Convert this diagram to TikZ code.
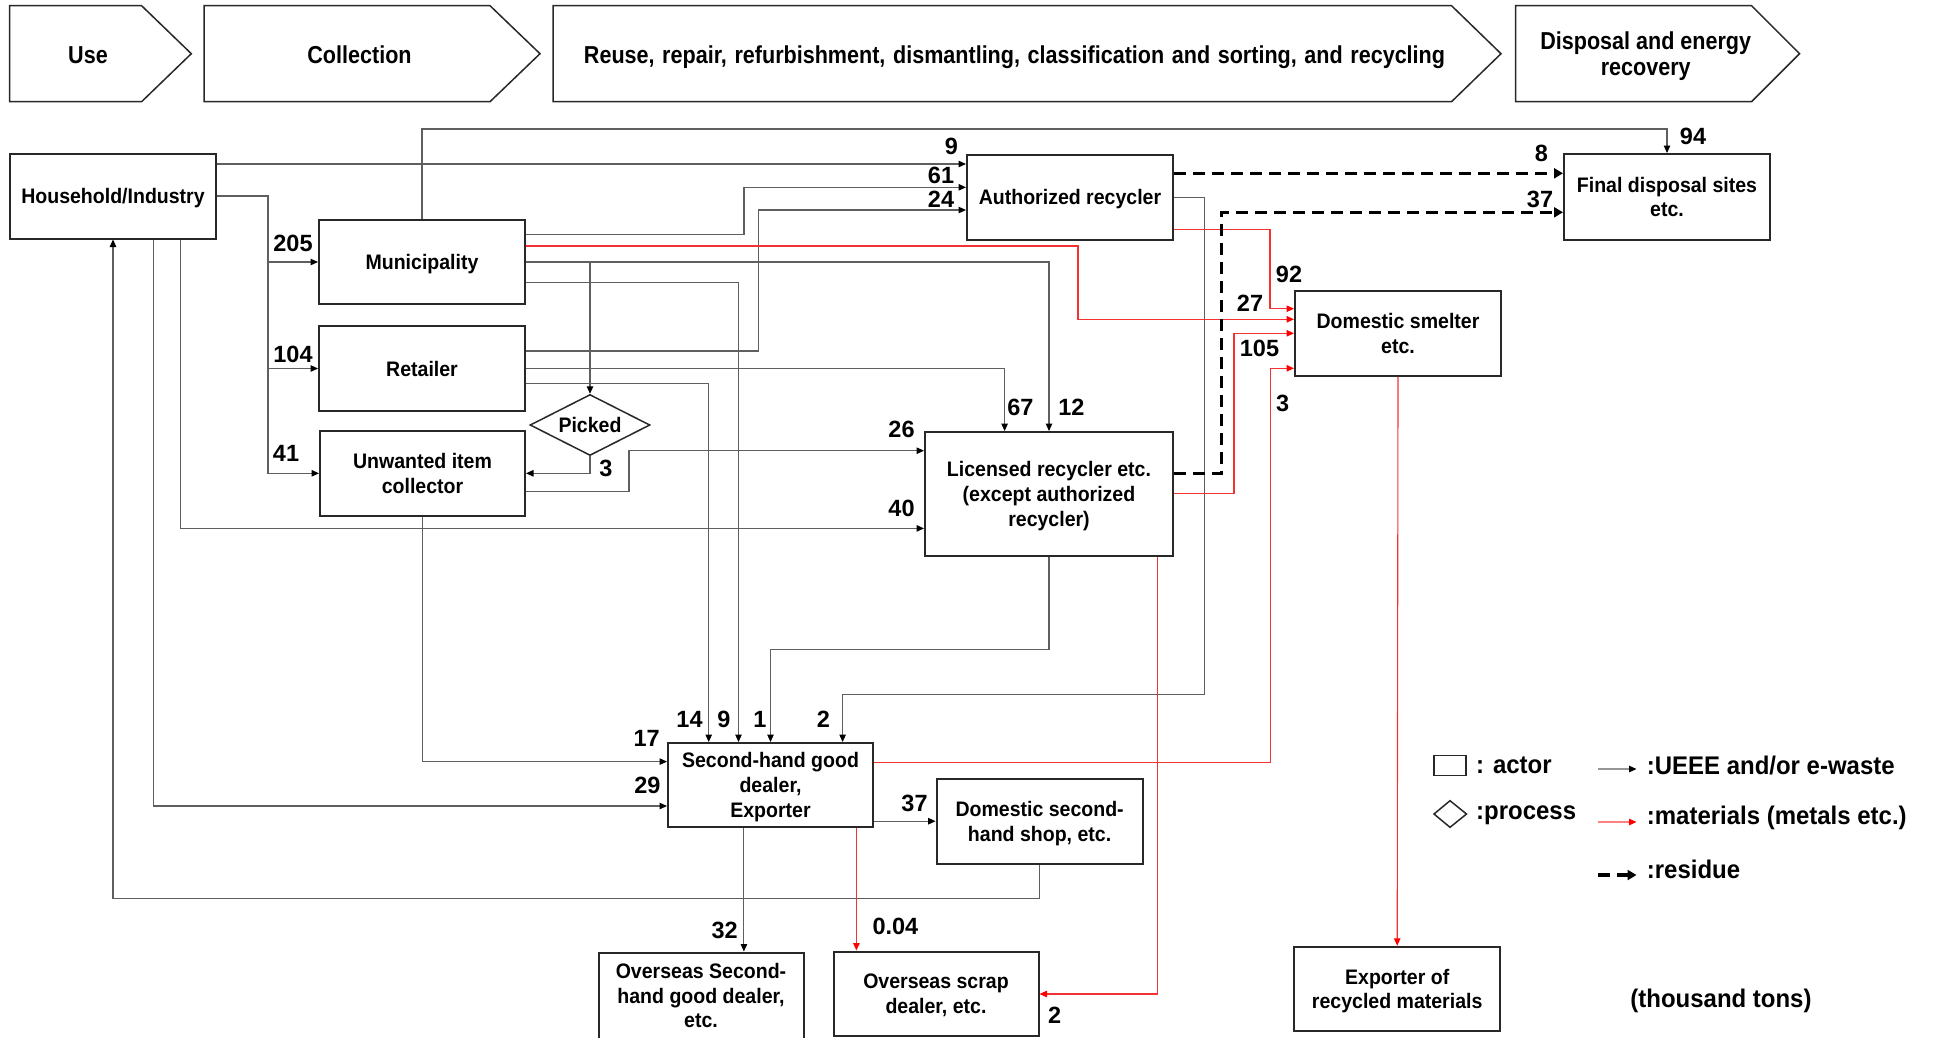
\documentclass[tikz,border=0pt]{standalone}
\usepackage{fontspec}
\setmainfont{Liberation Sans}
\newfontfamily\stagefont{Liberation Sans}[FakeStretch=0.88]
\newfontfamily\boxfont{Liberation Sans}[FakeStretch=0.93]
\newfontfamily\legfont{Liberation Sans}[FakeStretch=0.94]
\usetikzlibrary{arrows.meta,shapes.geometric}
\definecolor{linegray}{RGB}{95,95,95}
\definecolor{lightline}{RGB}{150,150,150}
\definecolor{boxgray}{RGB}{40,40,40}
\definecolor{flowred}{RGB}{245,50,50}
\definecolor{pinkline}{RGB}{255,130,130}
% struts that keep the capitals of a text block centred in its box
\newcommand\boxtop{\rule{0pt}{21pt}}
\newcommand\boxbot{\rule[-6pt]{0pt}{6pt}}
\newcommand\stagetop{\rule{0pt}{23.5pt}}
\newcommand\stagebot{\rule[-6pt]{0pt}{6pt}}
\begin{document}
\begin{tikzpicture}[x=1pt,y=-1pt,
  actor/.style={draw=boxgray, line width=2pt, rectangle, inner sep=0pt, align=center,
    font=\boxfont\fontsize{21}{24.8}\selectfont\bfseries},
  process/.style={draw=boxgray, line width=1.5pt, diamond, aspect=2, inner sep=0pt,
    minimum width=120pt, minimum height=61pt,
    font=\boxfont\fontsize{21}{24.8}\selectfont\bfseries},
  stage/.style={draw=boxgray, line width=1.5pt},
  stagetext/.style={font=\stagefont\fontsize{24.5}{25.7}\selectfont\bfseries, align=center,
    inner sep=0pt},
  flow/.style={draw=linegray, line width=1.1pt, -{Triangle[length=7.5pt,width=6.5pt,color=black]}},
  matflow/.style={draw=flowred, line width=1.1pt, -{Triangle[length=7.5pt,width=6.5pt,color=red]}},
  residue/.style={draw=black, line width=3.5pt, dash pattern=on 12pt off 7pt,
    -{Triangle[length=9pt,width=10pt]}},
  qty/.style={font=\fontsize{23.5}{23.5}\selectfont\bfseries, inner sep=0pt},
  legendtext/.style={font=\legfont\fontsize{25.5}{25.5}\selectfont\bfseries, anchor=west, inner sep=0pt},
]
\useasboundingbox (0,0) rectangle (1942,1037);

% ---- stage banners ----
\draw[stage] (9.6,5.7) -- (141.6,5.7) -- (191.3,53.7) -- (141.6,101.7) -- (9.6,101.7) -- cycle;
\node[stagetext] (sUse) at (88,54.5) {\stagetop Use\stagebot};
\draw[stage] (204,5.7) -- (490,5.7) -- (540,53.7) -- (490,101.7) -- (204,101.7) -- cycle;
\node[stagetext] (sCol) at (359.5,54.5) {\stagetop Collection\stagebot};
\draw[stage] (553,5.7) -- (1451.5,5.7) -- (1501,53.7) -- (1451.5,101.7) -- (553,101.7) -- cycle;
\node[stagetext] (sRec) at (1014.5,54.5) {\spaceskip=7.6pt plus 1pt\relax\stagetop Reuse, repair, refurbishment, dismantling, classification and sorting, and recycling\stagebot};
\draw[stage] (1515.5,5.7) -- (1751.5,5.7) -- (1799.5,53.7) -- (1751.5,101.7) -- (1515.5,101.7) -- cycle;
\node[stagetext] (sDis) at (1645.7,53.7) {\stagetop Disposal and energy\\recovery\stagebot};

% ---- actors ----
\node[actor, minimum width=206pt, minimum height=85pt] (hh) at (113,196) {\boxtop Household/Industry\boxbot};
\node[actor, minimum width=206pt, minimum height=83.5pt] (mun) at (422,261.75) {\boxtop Municipality\boxbot};
\node[actor, minimum width=206pt, minimum height=85pt] (ret) at (422,368.5) {\boxtop Retailer\boxbot};
\node[actor, minimum width=205pt, minimum height=85pt] (unw) at (422.5,473.5) {\boxtop Unwanted item\\collector\boxbot};
\node[process] (pick) at (590,425) {Picked};
\node[actor, minimum width=206pt, minimum height=85pt] (auth) at (1070,197) {\boxtop Authorized recycler\boxbot};
\node[actor, minimum width=206pt, minimum height=86pt] (fds) at (1667,197) {\boxtop Final disposal sites\\etc.\boxbot};
\node[actor, minimum width=206pt, minimum height=85pt] (smelt) at (1398,333.3) {\boxtop Domestic smelter\\etc.\boxbot};
\node[actor, minimum width=248pt, minimum height=124pt] (lic) at (1049,494) {\boxtop Licensed recycler etc.\\(except authorized\\recycler)\boxbot};
\node[actor, minimum width=205pt, minimum height=84pt] (sh) at (770.5,785) {\boxtop Second-hand good\\dealer,\\Exporter\boxbot};
\node[actor, minimum width=206pt, minimum height=85pt] (dsh) at (1039.6,821.5) {\boxtop Domestic second-\\hand shop, etc.\boxbot};
\node[actor, minimum width=205pt, minimum height=86pt] (osh) at (701,995.5) {\boxtop Overseas Second-\\hand good dealer,\\etc.\boxbot};
\node[actor, minimum width=205pt, minimum height=84pt] (osc) at (936,993.5) {\boxtop Overseas scrap\\dealer, etc.\boxbot};
\node[actor, minimum width=206pt, minimum height=84.5pt] (exp) at (1397.2,989) {\boxtop Exporter of\\recycled materials\boxbot};

% ---- UEEE / e-waste flows ----
\draw[flow] (hh.east |- 0,164) -- (auth.west |- 0,164);
\draw[flow] (hh.east |- 0,196) -| (268,262) -- (mun.west |- 0,262);
\draw[flow] (268,262) |- (ret.west |- 0,368.5);
\draw[flow] (268,368.5) |- (unw.west |- 0,473.3);
\draw[flow] (mun.north) |- (fds.north |- 0,129) -- (fds.north);
\draw[flow] (mun.east |- 0,234.3) -| (744,187.3) -- (auth.west |- 0,187.3);
\draw[flow] (mun.east |- 0,262) -| (pick.north);
\draw[flow] (mun.east |- 0,262) -| (lic.north);
\draw[flow] (mun.east |- 0,282.7) -| (sh.north -| 738.5,0);
\draw[flow] (ret.east |- 0,351) -| (758.7,210) -- (auth.west |- 0,210);
\draw[flow] (ret.east |- 0,368.5) -| (lic.north -| 1004.6,0);
\draw[flow] (ret.east |- 0,383.3) -| (sh.north -| 708.7,0);
\draw[flow] (pick.south) |- (unw.east |- 0,473.3);
\draw[flow] (unw.east |- 0,491.7) -| (629,450.7) -- (lic.west |- 0,450.7);
\draw[flow] (hh.south -| 180.8,0) |- (lic.west |- 0,528.4);
\draw[flow] (hh.south -| 153.8,0) |- (sh.west |- 0,806);
\draw[flow] (dsh.south) |- (hh.south |- 0,898.3) -- (hh.south);
\draw[flow] (unw.south) |- (sh.west |- 0,761.6);
\draw[flow] (lic.south) -- (lic.south |- 0,649.3) -| (sh.north);
\draw[flow] (auth.east |- 0,197.3) -| (1204.7,694.5) -| (sh.north -| 842.6,0);
\draw[flow] (sh.east |- 0,821.2) -- (dsh.west |- 0,821.2);
\draw[flow] (sh.south -| 743.9,0) -- (osh.north -| 743.9,0);

% ---- material flows ----
\draw[matflow] (mun.east |- 0,246) -| (1078,319.3) -- (smelt.west |- 0,319.3);
\draw[matflow] (auth.east |- 0,229.3) -| (1270,308.7) -- (smelt.west |- 0,308.7);
\draw[matflow] (lic.east |- 0,493.3) -| (1234,333.3) -- (smelt.west |- 0,333.3);
\draw[matflow] (sh.east |- 0,762.3) -| (1270.8,368.3) -- (smelt.west |- 0,368.3);
\draw[matflow] (sh.south -| 856.4,0) -- (osc.north -| 856.4,0);
\draw[matflow] (lic.south -| 1157.5,0) |- (osc.east |- 0,994);
\draw[matflow] (smelt.south) -- (exp.north);

% ---- residue flows ----
\draw[residue] (auth.east |- 0,173.3) -- (fds.west |- 0,173.3);
\draw[residue] (lic.east |- 0,473.3) -| (1221.4,212.3) -- (fds.west |- 0,212.3);

% ---- quantities ----
\node[qty] (q205) at (293,243) {205};
\node[qty] (q104) at (293,354) {104};
\node[qty] (q41) at (286,453) {41};
\node[qty] (q9a) at (951.5,146) {9};
\node[qty] (q61) at (941,175) {61};
\node[qty] (q24) at (941,199.3) {24};
\node[qty] (q94) at (1693,136) {94};
\node[qty] (q8) at (1541.5,153) {8};
\node[qty] (q37a) at (1540,199) {37};
\node[qty] (q92) at (1289,274) {92};
\node[qty] (q27) at (1250,303) {27};
\node[qty] (q105) at (1259.5,348.3) {105};
\node[qty] (q3a) at (1282.6,403) {3};
\node[qty] (q67) at (1020.4,407.7) {67};
\node[qty] (q12) at (1071.4,407.7) {12};
\node[qty] (q26) at (901.5,429) {26};
\node[qty] (q40) at (901.5,508) {40};
\node[qty] (q3b) at (605.8,468.3) {3};
\node[qty] (q14) at (689.5,719) {14};
\node[qty] (q9b) at (724,719) {9};
\node[qty] (q1) at (760,719) {1};
\node[qty] (q2a) at (823.5,719) {2};
\node[qty] (q17) at (646.7,738) {17};
\node[qty] (q29) at (647.4,785) {29};
\node[qty] (q37b) at (914.5,803) {37};
\node[qty] (q32) at (724.7,930.8) {32};
\node[qty] (q004) at (895.4,926.4) {0.04};
\node[qty] (q2b) at (1054.6,1015.4) {2};

% ---- legend ----
\draw[draw=boxgray, line width=1.5pt] (1434,755.5) rectangle (1466,775.5);
\node[legendtext] (lgActor) at (1476,765) {: actor};
\draw[draw=boxgray, line width=1.5pt] (1434,814) -- (1450,800.7) -- (1466.5,814) -- (1450,827.3) -- cycle;
\node[legendtext] (lgProc) at (1476,815) {:process};
\draw[flow, draw=lightline] (1598,769) -- (1636.5,769);
\node[legendtext] (lgFlow) at (1646.7,766) {:UEEE and/or e-waste};
\draw[matflow, draw=pinkline] (1598,822) -- (1636.5,822);
\node[legendtext] (lgMat) at (1646.7,818) {:materials (metals etc.)};
\draw[residue] (1598,875) -- (1636.5,875);
\node[legendtext] (lgRes) at (1646.7,869) {:residue};
\node[font=\legfont\fontsize{25.5}{25.5}\selectfont\bfseries, inner sep=0pt] (unit) at (1721,1000.7) {(thousand tons)};
\end{tikzpicture}
\end{document}
